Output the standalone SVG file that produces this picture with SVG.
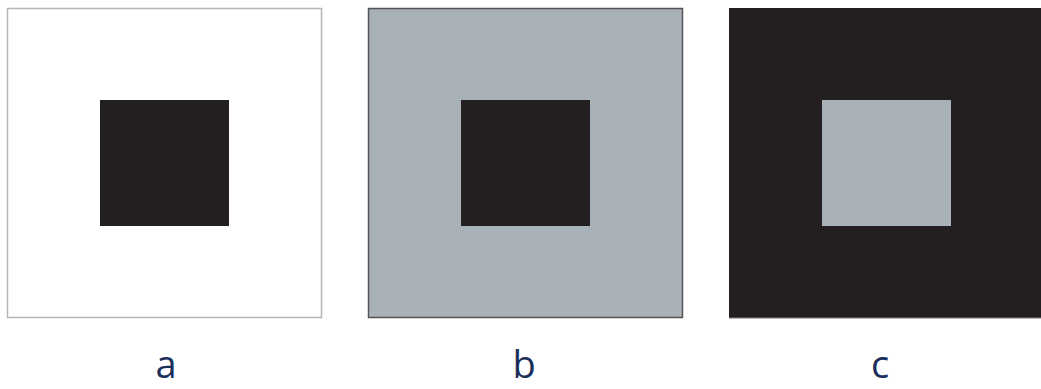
<svg xmlns="http://www.w3.org/2000/svg" width="1041" height="389" viewBox="0 0 1041 389">
<style>
.lbl{font-family:"Open Sans","Liberation Sans",sans-serif;font-size:38px;fill:#1c2f5a;text-anchor:middle}
.dark{fill:#231f20}
.gray{fill:#a8b0b8}
</style>
<rect width="1041" height="389" fill="#ffffff"/>
<g id="panel-a">
<rect x="7.5" y="8.5" width="314" height="309" fill="#ffffff" stroke="#b5b5b5" stroke-width="1.5"/>
<rect class="dark" x="100" y="100" width="129" height="126"/>
<text class="lbl" x="166" y="378">a</text>
</g>
<g id="panel-b">
<rect class="gray" x="368.5" y="8.5" width="314" height="309" stroke="#555555" stroke-width="1.5"/>
<rect class="dark" x="461" y="100" width="129" height="126"/>
<text class="lbl" x="524" y="378">b</text>
</g>
<g id="panel-c">
<rect class="dark" x="729" y="8" width="312" height="310"/>
<line x1="729" y1="318" x2="1041" y2="318" stroke="#777" stroke-width="1"/>
<rect class="gray" x="822" y="100" width="129" height="126"/>
<text class="lbl" x="880" y="378">c</text>
</g>
<g id="connectors"/>
</svg>
